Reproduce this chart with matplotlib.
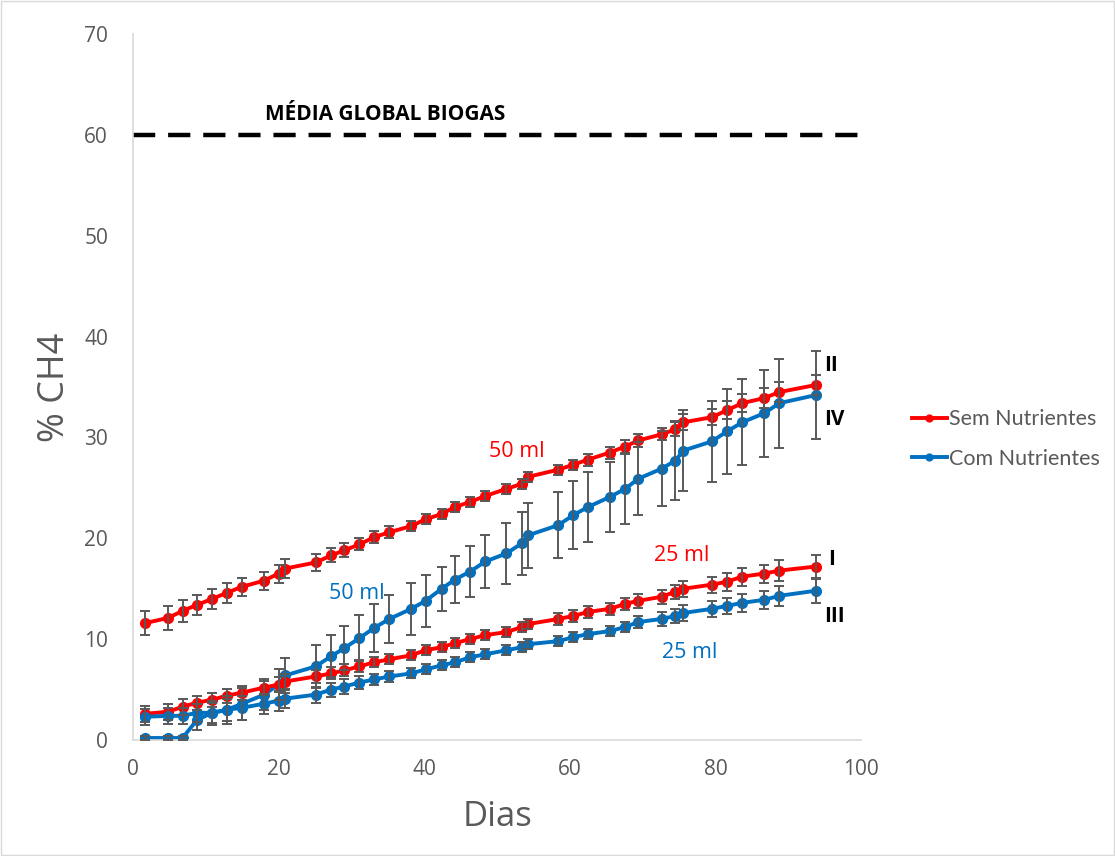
import matplotlib
matplotlib.use("Agg")
import matplotlib.pyplot as plt
from matplotlib.patches import Rectangle

# dias de amostragem
dias = [1.7, 4.8, 6.8, 8.8, 10.9, 12.9, 15.0, 18.0, 20.0, 20.9,
        25.1, 27.2, 29.0, 31.1, 33.1, 35.2, 38.2, 40.2, 42.4, 44.2,
        46.3, 48.4, 51.3, 53.4, 54.3, 58.4, 60.5, 62.5, 65.5, 67.6,
        69.4, 72.6, 74.5, 75.6, 79.5, 81.6, 83.7, 86.7, 88.8, 93.8]

# II - sem nutrientes 50 ml
sem_50 = [11.6, 12.1, 12.8, 13.4, 14.0, 14.6, 15.2, 15.8, 16.5, 17.0,
          17.6, 18.3, 18.8, 19.4, 20.1, 20.6, 21.2, 21.9, 22.4, 23.1,
          23.6, 24.2, 24.9, 25.4, 26.1, 26.8, 27.3, 27.8, 28.5, 29.1,
          29.7, 30.3, 30.8, 31.5, 32.0, 32.7, 33.4, 33.9, 34.5, 35.2]
sem_50_err = [1.2, 1.2, 1.1, 1.0, 1.0, 1.0, 0.9, 0.9, 0.9, 0.9,
              0.8, 0.7, 0.7, 0.6, 0.6, 0.6, 0.5, 0.5, 0.5, 0.5,
              0.5, 0.5, 0.5, 0.5, 0.5, 0.5, 0.5, 0.6, 0.6, 0.6,
              0.6, 0.6, 0.7, 0.8, 0.8, 0.9, 0.9, 1.0, 1.0, 1.0]

# I - sem nutrientes 25 ml
sem_25 = [2.6, 2.8, 3.3, 3.7, 4.0, 4.4, 4.7, 5.2, 5.5, 5.8,
          6.3, 6.6, 6.9, 7.3, 7.7, 8.0, 8.4, 8.9, 9.2, 9.6,
          10.0, 10.4, 10.7, 11.2, 11.5, 12.0, 12.3, 12.7, 13.0, 13.5,
          13.8, 14.2, 14.7, 15.0, 15.4, 15.7, 16.2, 16.5, 16.8, 17.2]
sem_25_err = [0.8, 0.8, 0.8, 0.7, 0.7, 0.7, 0.7, 0.7, 0.7, 0.7,
              0.6, 0.6, 0.6, 0.6, 0.5, 0.5, 0.5, 0.5, 0.5, 0.5,
              0.5, 0.5, 0.5, 0.5, 0.5, 0.6, 0.6, 0.6, 0.6, 0.6,
              0.7, 0.7, 0.7, 0.8, 0.8, 0.9, 0.9, 0.9, 1.0, 1.1]

# IV - com nutrientes 50 ml
com_50 = [0.2, 0.2, 0.2, 2.0, 2.7, 3.0, 3.6, 4.5, 5.5, 6.4,
          7.3, 8.3, 9.1, 10.1, 11.1, 12.0, 13.0, 13.8, 15.0, 15.9,
          16.7, 17.7, 18.5, 19.5, 20.3, 21.3, 22.3, 23.1, 24.1, 24.9,
          25.9, 26.9, 27.7, 28.7, 29.6, 30.6, 31.5, 32.4, 33.4, 34.2]
com_50_err = [0.2, 0.2, 0.2, 1.0, 1.2, 1.4, 1.6, 1.5, 1.5, 1.7,
              2.1, 2.1, 2.2, 2.3, 2.4, 2.4, 2.6, 2.6, 2.2, 2.3,
              2.5, 2.6, 3.0, 3.1, 3.2, 3.3, 3.4, 3.5, 3.5, 3.5,
              3.6, 3.7, 3.9, 4.0, 4.0, 4.2, 4.25, 4.3, 4.4, 4.4]

# III - com nutrientes 25 ml
com_25 = [2.3, 2.4, 2.4, 2.7, 2.7, 3.0, 3.2, 3.6, 3.9, 4.1,
          4.5, 5.0, 5.3, 5.7, 6.0, 6.3, 6.6, 7.0, 7.4, 7.7,
          8.2, 8.5, 8.9, 9.2, 9.5, 9.8, 10.2, 10.5, 10.8, 11.2,
          11.7, 12.0, 12.3, 12.6, 13.0, 13.3, 13.6, 13.9, 14.3, 14.8]
com_25_err = [0.8, 0.8, 0.8, 0.9, 1.0, 1.1, 1.2, 1.0, 1.0, 0.9,
              0.8, 0.7, 0.7, 0.6, 0.5, 0.5, 0.5, 0.5, 0.5, 0.5,
              0.5, 0.5, 0.5, 0.5, 0.5, 0.5, 0.5, 0.5, 0.5, 0.5,
              0.6, 0.7, 0.7, 0.8, 0.8, 0.8, 0.9, 0.9, 1.0, 1.2]

media_global = 60

RED = "#FF0000"
BLUE = "#0070C0"
GREY = "#595959"
FONT = "Open Sans"

fig = plt.figure(figsize=(11.15, 8.56), dpi=100)
ax = fig.add_axes([0.1193, 0.1355, 0.6529, 0.8248])

# borda do grafico
fig.patches.append(Rectangle((0.001, 0.001), 0.998, 0.998, transform=fig.transFigure,
                             fill=False, edgecolor="#d9d9d9", lw=1))

series = [(sem_50, sem_50_err, RED, "Sem Nutrientes"),
          (com_50, com_50_err, BLUE, "Com Nutrientes"),
          (sem_25, sem_25_err, RED, None),
          (com_25, com_25_err, BLUE, None)]

handles = {}
for vals, err, col, lab in series:
    ax.errorbar(dias, vals, yerr=err, fmt="none", ecolor=GREY, elinewidth=1.4,
                capsize=3.5, capthick=1.4, zorder=3)
    ln, = ax.plot(dias, vals, color=col, lw=2.8, marker="o", markersize=7,
                  zorder=2)
    if lab:
        handles[lab] = ln

# linha media global
ax.plot([0, 100], [media_global, media_global], color="black", lw=3.2,
        dashes=(5.0, 2.9), zorder=2)
ax.text(34.6, 62.0, "MÉDIA GLOBAL BIOGAS", fontsize=15, fontweight="bold",
        family=FONT, ha="center", va="center", color="black")

# rotulos das curvas
lab_kw = dict(fontsize=15.5, family=FONT, ha="center", va="center")
ax.text(52.7, 28.6, "50 ml", color=RED, **lab_kw)
ax.text(30.8, 14.5, "50 ml", color=BLUE, **lab_kw)
ax.text(75.4, 18.3, "25 ml", color=RED, **lab_kw)
ax.text(76.5, 8.7, "25 ml", color=BLUE, **lab_kw)
for txt, x, y in [("II", 95.0, 37.1), ("IV", 95.0, 31.8), ("I", 95.5, 17.9), ("III", 95.0, 12.2)]:
    ax.text(x, y, txt, fontsize=15, fontweight="bold", family=FONT,
            ha="left", va="center", color="black")

ax.set_xlim(0, 100)
ax.set_ylim(0, 70)
ax.set_xticks(range(0, 101, 20))
ax.set_yticks(range(0, 71, 10))
ax.tick_params(axis="both", length=0, colors=GREY, labelsize=15,
               labelfontfamily=FONT)
ax.tick_params(axis="x", pad=14)
ax.tick_params(axis="y", pad=18)
for s in ["top", "right"]:
    ax.spines[s].set_visible(False)
for s in ["left", "bottom"]:
    ax.spines[s].set_color("#d9d9d9")
    ax.spines[s].set_linewidth(1.2)

ax.set_xlabel("Dias", fontsize=25, color=GREY, family=FONT, labelpad=14)
ax.set_ylabel("% CH4", fontsize=26, color=GREY, family=FONT, labelpad=8)

fig.legend([handles["Sem Nutrientes"], handles["Com Nutrientes"]],
           ["Sem Nutrientes", "Com Nutrientes"],
           loc="center left", bbox_to_anchor=(0.818, 0.487), frameon=False,
           prop={"family": "Lato", "size": 15.5}, labelcolor=GREY,
           handlelength=1.6, handletextpad=0.1, labelspacing=0.9,
           markerscale=0.7, borderaxespad=0, borderpad=0)

fig.savefig("out.png", dpi=100)
